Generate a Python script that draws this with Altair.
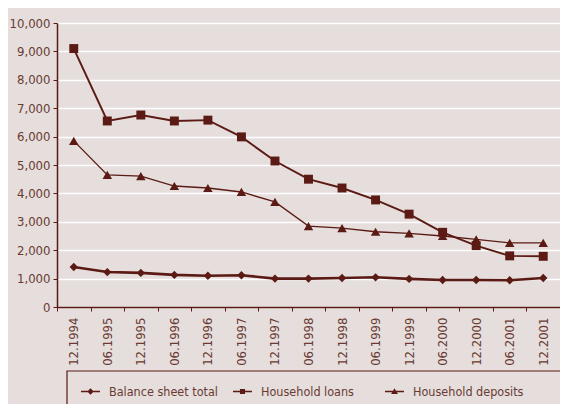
import altair as alt
import pandas as pd

dates = ["12.1994", "06.1995", "12.1995", "06.1996", "12.1996", "06.1997", "12.1997",
         "06.1998", "12.1998", "06.1999", "12.1999", "06.2000", "12.2000", "06.2001", "12.2001"]
series_names = ["Balance sheet total", "Household loans", "Household deposits"]
balance = [1410, 1230, 1200, 1130, 1100, 1120, 1000, 1000, 1020, 1045, 990, 950, 950, 940, 1020]
loans = [9100, 6550, 6760, 6550, 6580, 5990, 5140, 4500, 4190, 3770, 3270, 2630, 2160, 1800, 1785]
deposits = [5850, 4650, 4610, 4260, 4190, 4050, 3700, 2850, 2780, 2650, 2590, 2500, 2380, 2260, 2260]

MAROON = "#5b1a13"
TEXT = "#6a3a33"
BG = "#e5dedc"
FONT = "DejaVu Sans Condensed"

rows = []
for name, vals in zip(series_names, [balance, loans, deposits]):
    for d, v in zip(dates, vals):
        rows.append({"date": d, "series": name, "key": name, "value": v})
df = pd.DataFrame(rows)

x = alt.X("date:N", sort=dates, title=None,
          scale=alt.Scale(paddingInner=0, paddingOuter=0),
          axis=alt.Axis(tickBand="extent", labelAngle=270, labelAlign="right",
                        labelBaseline="middle", labelFont=FONT, labelFontSize=13,
                        labelColor=TEXT, labelPadding=6, domainColor=MAROON,
                        domainWidth=1.5, tickColor=MAROON, tickSize=4, grid=False))
y = alt.Y("value:Q", title=None,
          scale=alt.Scale(domain=[0, 10000], nice=False),
          axis=alt.Axis(values=list(range(0, 10001, 1000)), format=",d",
                        labelFont=FONT, labelFontSize=13, labelColor=TEXT,
                        labelPadding=3, domainColor=MAROON, domainWidth=1.5,
                        tickColor=MAROON, tickSize=4, gridColor="#ffffff",
                        gridWidth=1.5, gridOpacity=1))

base = alt.Chart(df)

legend_box = alt.Chart(pd.DataFrame({"box": [1]})).mark_rect(
    fill=BG, stroke=MAROON, strokeWidth=1.2, clip=False
).encode(x=alt.value(10), x2=alt.value(530), y=alt.value(348), y2=alt.value(400))

lines = base.mark_line(color=MAROON).encode(
    x=x, y=y, detail="series:N",
    strokeWidth=alt.StrokeWidth("series:N", scale=alt.Scale(domain=series_names, range=[2.6, 1.3, 1.3]), legend=None),
)

points = base.mark_point(filled=True, color=MAROON, opacity=1).encode(
    x=x, y=y,
    shape=alt.Shape("series:N", scale=alt.Scale(domain=series_names,
                    range=["diamond", "square", "triangle-up"]), legend=None),
    size=alt.Size("series:N", scale=alt.Scale(domain=series_names, range=[70, 90, 90]), legend=None),
)

legend_paths = [
    "M-1,-0.07H1V0.07H-1ZM0,-0.34L0.34,0L0,0.34L-0.34,0Z",
    "M-1,-0.07H1V0.07H-1ZM-0.27,-0.27H0.27V0.27H-0.27Z",
    "M-1,-0.07H1V0.07H-1ZM0,-0.34L0.36,0.26H-0.36Z",
]

legend_layer = base.mark_point(filled=True, color=MAROON, opacity=0).encode(
    x=x, y=y,
    shape=alt.Shape("key:N", scale=alt.Scale(domain=series_names, range=legend_paths),
                    legend=alt.Legend(title=None, orient="none", legendX=13, legendY=348,
                                      direction="horizontal", gridAlign="all",
                                      padding=10, columnPadding=10, symbolSize=361,
                                      symbolOpacity=1, symbolFillColor=MAROON,
                                      labelFont=FONT, labelFontSize=12.5, labelColor=TEXT,
                                      labelOffset=8, labelLimit=300)),
)

chart = alt.layer(legend_box, lines, points, legend_layer).resolve_scale(
    shape="independent", size="independent"
).properties(
    width=503, height=284,
    autosize=alt.AutoSizeParams(type="none"),
    padding={"left": 49, "top": 15, "right": 0, "bottom": 97},
    background=BG,
).configure_view(stroke=None)

chart.save("out.html", embed_options={"renderer": "svg", "actions": False})
